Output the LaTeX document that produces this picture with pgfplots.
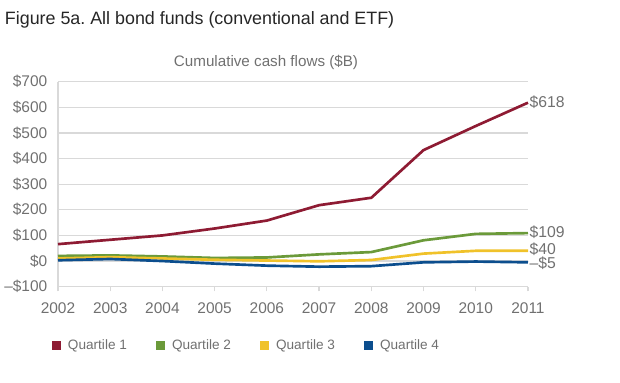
\documentclass[border=0pt]{standalone}
\usepackage{fontspec}
\setmainfont{Liberation Sans}
\usepackage{pgfplots}
\pgfplotsset{compat=1.18}
\frenchspacing
\definecolor{q1}{HTML}{8E1B33}
\definecolor{q2}{HTML}{6B9A3A}
\definecolor{q3}{HTML}{F0C22A}
\definecolor{q4}{HTML}{0C4E8E}
\definecolor{txt}{HTML}{707070}
\definecolor{gridc}{HTML}{D9D9D9}
\begin{document}
\begin{tikzpicture}
\path[use as bounding box] (0,0) rectangle (465pt,286.5pt);
\node[anchor=west, inner sep=0pt, text=black!85, font=\fontsize{13.4}{15}\selectfont] at (3.5pt,271.5pt) {Figure 5a. All bond funds (conventional and ETF)};
\node[anchor=center, inner sep=0pt, text=txt, font=\fontsize{11.4}{13}\selectfont] at (199.5pt,240pt) {Cumulative cash flows (\$B)};
\begin{axis}[
  at={(43.5pt,71.5pt)}, anchor=south west,
  scale only axis, width=352.5pt, height=153.75pt,
  xmin=2002, xmax=2011, ymin=-100, ymax=700,
  axis x line*=bottom, axis y line*=left,
  axis line style={gridc, line width=0.9pt, -},
  xtick={2002,...,2011},
  xticklabels={2002,2003,2004,2005,2006,2007,2008,2009,2010,2011},
  ytick={-100,0,...,700},
  yticklabels={–\$100,\$0,\$100,\$200,\$300,\$400,\$500,\$600,\$700},
  ymajorgrids, grid style={gridc, line width=0.9pt},
  tick align=outside,
  x tick style={gridc, line width=0.9pt},
  xtick style={gridc}, major tick length=3.5pt,
  y tick style={draw=none},
  tick label style={text=txt, font=\fontsize{11.6}{13}\selectfont},
  yticklabel style={xshift=-1pt},
  xticklabel style={yshift=-5pt},
  every axis plot/.append style={line width=2pt, mark=none},
  clip=false,
  legend columns=4,
  legend style={at={(-0.0128,-0.289)}, anchor=west, draw=none, fill=none, inner sep=0pt,
    font=\fontsize{10.2}{12}\selectfont, text=txt,
    /tikz/every odd column/.append style={column sep=3pt},
    /tikz/every even column/.append style={column sep=20pt}},
  legend image code/.code={\fill[#1] (0pt,-2.4pt) rectangle (4.8pt,2.4pt);},
]
\addplot[color=q1] coordinates {(2002,66) (2003,83) (2004,100) (2005,127) (2006,158) (2007,218) (2008,247) (2009,433) (2010,527) (2011,618)};
\addplot[color=q2] coordinates {(2002,20) (2003,22) (2004,18) (2005,12) (2006,14) (2007,26) (2008,35) (2009,81) (2010,106) (2011,109)};
\addplot[color=q3] coordinates {(2002,10) (2003,15) (2004,10) (2005,5) (2006,2) (2007,-1) (2008,4) (2009,29) (2010,40) (2011,40)};
\addplot[color=q4] coordinates {(2002,3) (2003,8) (2004,0) (2005,-10) (2006,-18) (2007,-22) (2008,-20) (2009,-5) (2010,-2) (2011,-5)};
\legend{Quartile 1,Quartile 2,Quartile 3,Quartile 4}
\node[anchor=west, inner sep=1pt, text=txt, font=\fontsize{11.8}{13}\selectfont] at (axis cs:2011,618) {\$618};
\node[anchor=west, inner sep=1pt, text=txt, font=\fontsize{11.8}{13}\selectfont] at (axis cs:2011,111) {\$109};
\node[anchor=west, inner sep=1pt, text=txt, font=\fontsize{11.8}{13}\selectfont] at (axis cs:2011,47) {\$40};
\node[anchor=west, inner sep=1pt, text=txt, font=\fontsize{11.8}{13}\selectfont] at (axis cs:2011,-10) {–\$5};
\end{axis}
\end{tikzpicture}
\end{document}
